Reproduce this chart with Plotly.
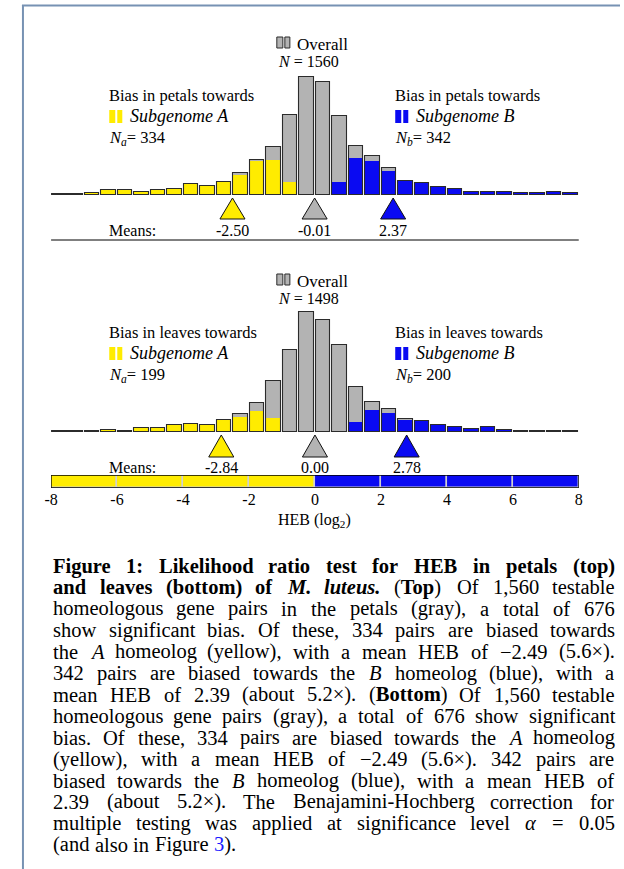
import re
import plotly.graph_objects as go

W, H = 624, 869

# ---------------- data ----------------
BIN_CENTERS = [-7.75, -7.25, -6.75, -6.25, -5.75, -5.25, -4.75, -4.25,
               -3.75, -3.25, -2.75, -2.25, -1.75, -1.25, -0.75, -0.25,
               0.25, 0.75, 1.25, 1.75, 2.25, 2.75, 3.25, 3.75,
               4.25, 4.75, 5.25, 5.75, 6.25, 6.75, 7.25, 7.75]

# petals (top)
TOP_ALL = [2, 2, 4, 9, 9, 5, 10, 12, 23, 19, 26,
           47, 74, 103, 172, 253, 241, 168, 105, 82, 58,
           29, 24, 17, 12, 5, 6, 5, 4, 4, 5, 4]
TOP_A = [2, 2, 4, 9, 9, 5, 10, 12, 23, 19, 26, 41, 71, 75, 26,
         0, 0, 0, 0, 0, 0, 0, 0, 0, 0, 0, 0, 0, 0, 0, 0, 0]
TOP_B = [0, 0, 0, 0, 0, 0, 0, 0, 0, 0, 0, 0, 0, 0, 0, 0, 0,
         27, 79, 71, 50, 29, 24, 17, 12, 5, 6, 5, 4, 4, 5, 4]

# leaves (bottom)
BOT_ALL = [2, 2, 3, 5, 2, 9, 9, 14, 18, 16, 26,
           39, 62, 110, 177, 257, 241, 188, 97, 65, 50, 29,
           23, 16, 10, 6, 10, 4, 3, 3, 2, 3]
BOT_A = [2, 2, 3, 5, 2, 9, 9, 14, 18, 16, 26, 32, 45, 31,
         0, 0, 0, 0, 0, 0, 0, 0, 0, 0, 0, 0, 0, 0, 0, 0, 0, 0]
BOT_B = [0, 0, 0, 0, 0, 0, 0, 0, 0, 0, 0, 0, 0, 0, 0, 0, 0, 0,
         21, 47, 41, 26, 23, 16, 10, 6, 10, 4, 3, 3, 2, 3]

MEANS_TOP = [-2.50, -0.01, 2.37]
MEANS_BOT = [-2.84, 0.00, 2.78]
MEAN_LABELS_TOP = ["-2.50", "-0.01", "2.37"]
MEAN_LABELS_BOT = ["-2.84", "0.00", "2.78"]

N_TOP = {"all": 1560, "a": 334, "b": 342}
N_BOT = {"all": 1498, "a": 199, "b": 200}

SCALE_CENTERS = [-7, -5, -3, -1, 1, 3, 5, 7]
SCALE_SIDE = ["A", "A", "A", "A", "B", "B", "B", "B"]

TICK_VALUES = [-8, -6, -4, -2, 0, 2, 4, 6, 8]
TICK_LABELS = ["-8", "-6", "-4", "-2", "0", "2", "4", "6", "8"]

CAPTION_LINES = [
    "<b>Figure 1: Likelihood ratio test for HEB in petals (top)</b>",
    "<b>and leaves (bottom) of <i>M. luteus.</i></b> (<b>Top</b>) Of 1,560 testable",
    "homeologous gene pairs in the petals (gray), a total of 676",
    "show significant bias. Of these, 334 pairs are biased towards",
    "the <i>A</i> homeolog (yellow), with a mean HEB of \u22122.49 (5.6\u00d7).",
    "342 pairs are biased towards the <i>B</i> homeolog (blue), with a",
    "mean HEB of 2.39 (about 5.2\u00d7). (<b>Bottom</b>) Of 1,560 testable",
    "homeologous gene pairs (gray), a total of 676 show significant",
    "bias. Of these, 334 pairs are biased towards the <i>A</i> homeolog",
    "(yellow), with a mean HEB of \u22122.49 (5.6\u00d7). 342 pairs are",
    "biased towards the <i>B</i> homeolog (blue), with a mean HEB of",
    "2.39 (about 5.2\u00d7). The Benajamini-Hochberg correction for",
    "multiple testing was applied at significance level <i>\u03b1</i> = 0.05",
    "(and also in Figure <c>3</c>).",
]

# ---------------- style ----------------
FONT = "Liberation Serif"
YELLOW = "#ffec00"
BLUE = "#0a0af2"
GRAY = "#b3b3b3"
EDGE = "#2b2b2b"
FRAME = "#7792b3"

K = 2.15            # counts per pixel
TOP_BASE = 194.5
BOT_BASE = 432.0


def X(p):
    """horizontal page position (px) -> figure px"""
    return (p - 8.1) / 0.979


def py(p):
    return 1 - p / H


def px(p):
    return min(max(X(p) / W, 0.0), 1.0)


X_L, X_R = 52, 578  # extent of HEB axis (-8 .. 8)
TRI_HALF = 0.38     # triangle half width, HEB units

fig = go.Figure()

# bars
for ax, allv, av, bv in (("y", TOP_ALL, TOP_A, TOP_B), ("y2", BOT_ALL, BOT_A, BOT_B)):
    fig.add_trace(go.Bar(x=BIN_CENTERS, y=allv, width=0.44, yaxis=ax,
                         marker=dict(color=GRAY, line=dict(width=0)), hoverinfo="skip"))
    fig.add_trace(go.Bar(x=BIN_CENTERS, y=av, width=0.44, yaxis=ax,
                         marker=dict(color=YELLOW, line=dict(width=0)), hoverinfo="skip"))
    fig.add_trace(go.Bar(x=BIN_CENTERS, y=bv, width=0.44, yaxis=ax,
                         marker=dict(color=BLUE, line=dict(width=0)), hoverinfo="skip"))
    fig.add_trace(go.Bar(x=BIN_CENTERS, y=allv, width=0.44, yaxis=ax,
                         marker=dict(color="rgba(0,0,0,0)", line=dict(width=1.1, color=EDGE)),
                         hoverinfo="skip"))

# mean triangles
TRI_COLORS = [YELLOW, GRAY, BLUE]
for ax, means, base, apex_px, bottom_px in (("y", MEANS_TOP, TOP_BASE, 198, 219),
                                            ("y2", MEANS_BOT, BOT_BASE, 435, 457)):
    y_apex = (base - apex_px) * K
    y_bot = (base - bottom_px) * K
    for m, c in zip(means, TRI_COLORS):
        fig.add_trace(go.Scatter(x=[m - TRI_HALF, m + TRI_HALF, m, m - TRI_HALF],
                                 y=[y_bot, y_bot, y_apex, y_bot], yaxis=ax,
                                 mode="lines", fill="toself", fillcolor=c,
                                 line=dict(color="#111111", width=1), hoverinfo="skip"))

# HEB colour scale
fig.add_trace(go.Bar(x=SCALE_CENTERS, y=[1] * len(SCALE_CENTERS), width=2, yaxis="y3",
                     marker=dict(color=[YELLOW if s == "A" else BLUE for s in SCALE_SIDE],
                                 line=dict(color="#d0d0d0", width=1.5)),
                     hoverinfo="skip"))

TOP_DOM = (62, 245)
BOT_DOM = (300, 470)
SC_DOM = (475, 488)

fig.update_layout(
    width=W, height=H, margin=dict(l=0, r=0, t=0, b=0),
    paper_bgcolor="white", plot_bgcolor="rgba(0,0,0,0)",
    showlegend=False, barmode="overlay", bargap=0,
    font=dict(family=FONT, color="black", size=16),
    xaxis=dict(domain=[px(X_L), px(X_R)], range=[-8, 8], anchor="y3",
               showgrid=False, zeroline=False, showline=False, ticks="",
               tickvals=TICK_VALUES, ticktext=TICK_LABELS,
               tickfont=dict(family=FONT, size=16, color="black")),
    yaxis=dict(domain=[py(TOP_DOM[1]), py(TOP_DOM[0])],
               range=[(TOP_BASE - TOP_DOM[1]) * K, (TOP_BASE - TOP_DOM[0]) * K],
               visible=False, anchor="x"),
    yaxis2=dict(domain=[py(BOT_DOM[1]), py(BOT_DOM[0])],
                range=[(BOT_BASE - BOT_DOM[1]) * K, (BOT_BASE - BOT_DOM[0]) * K],
                visible=False, anchor="x"),
    yaxis3=dict(domain=[py(SC_DOM[1]), py(SC_DOM[0])], range=[0, 1],
                visible=False, anchor="x"),
)

shapes = []
# frame
shapes.append(dict(type="line", xref="paper", yref="paper", x0=px(23), x1=1,
                   y0=py(5.5), y1=py(5.5), line=dict(color=FRAME, width=2)))
shapes.append(dict(type="line", xref="paper", yref="paper", x0=px(24), x1=px(24),
                   y0=py(5), y1=0, line=dict(color=FRAME, width=2)))
# rule under top panel
shapes.append(dict(type="line", xref="x", yref="paper", x0=-8, x1=8,
                   y0=py(240), y1=py(240), line=dict(color="black", width=1)))
# scale outer border
shapes.append(dict(type="rect", xref="x", yref="y3", x0=-8, x1=8, y0=0, y1=1,
                   line=dict(color="black", width=1.3), layer="above"))


def icon(x0, y0, y1, color, edge):
    for a, b in ((x0, x0 + 6), (x0 + 8, x0 + 13)):
        shapes.append(dict(type="rect", xref="paper", yref="paper", x0=px(a), x1=px(b),
                           y0=py(y1), y1=py(y0), fillcolor=color,
                           line=dict(color=edge, width=1 if edge else 0)))


for dy in (0, 237):
    icon(277, 37 + dy, 48 + dy, GRAY, EDGE)
    icon(110, 110 + dy, 123 + dy, YELLOW, None)
    icon(395, 110 + dy, 123 + dy, BLUE, None)

annotations = []


def ann(text, x, y, size=16, xanchor="left", xref="paper"):
    annotations.append(dict(text=text, x=(px(x) if xref == "paper" else x), y=py(y),
                            xref=xref, yref="paper", xanchor=xanchor, yanchor="middle",
                            showarrow=False, borderpad=0,
                            font=dict(family=FONT, size=size, color="black")))


panels = [
    (0, "petals", N_TOP, MEANS_TOP, MEAN_LABELS_TOP, 230),
    (237, "leaves", N_BOT, MEANS_BOT, MEAN_LABELS_BOT, 467),
]
for dy, organ, n, means, labels, my in panels:
    ann("Overall", 296, 44 + dy, 17)
    ann("<i>N</i> = %d" % n["all"], 277, 61 + dy, 16)
    ann("Bias in %s towards" % organ, 109, 95 + dy, 16.5)
    ann("Bias in %s towards" % organ, 394, 95 + dy, 16.5)
    ann("<i>Subgenome A</i>", 130, 116 + dy, 18)
    ann("<i>Subgenome B</i>", 415, 116 + dy, 18)
    ann("<i>N</i><sub><i>a</i></sub>= %d" % n["a"], 109, 138 + dy, 16.5)
    ann("<i>N</i><sub><i>b</i></sub>= %d" % n["b"], 394, 138 + dy, 16.5)
    ann("Means:", 109, my, 16)
    for m, lab in zip(means, labels):
        ann(lab, m, my, 16, xanchor="center", xref="x")

ann("HEB (log<sub>2</sub>)", 315, 520, 16, xanchor="center")

# ---------------- justified caption ----------------
REG = dict(zip("abcdefghijklmnopqrstuvwxyz",
               [444, 500, 444, 500, 444, 333, 500, 500, 278, 278, 500, 278, 778,
                500, 500, 500, 500, 333, 389, 278, 500, 500, 722, 500, 500, 444]))
REG.update(zip("ABCDEFGHIJKLMNOPQRSTUVWXYZ",
               [722, 667, 667, 722, 611, 556, 722, 722, 333, 389, 722, 611, 889,
                722, 722, 556, 722, 667, 556, 611, 722, 722, 944, 722, 722, 611]))
BOLD = dict(zip("abcdefghijklmnopqrstuvwxyz",
                [500, 556, 444, 556, 444, 333, 500, 556, 278, 333, 556, 278, 833,
                 556, 500, 556, 556, 444, 389, 333, 556, 500, 722, 500, 500, 444]))
BOLD.update(zip("ABCDEFGHIJKLMNOPQRSTUVWXYZ",
                [722, 667, 722, 722, 667, 611, 778, 778, 389, 500, 778, 667, 944,
                 722, 778, 611, 778, 722, 556, 667, 722, 722, 1000, 722, 722, 667]))
ITAL = dict(zip("abcdefghijklmnopqrstuvwxyz",
                [500, 500, 444, 500, 444, 278, 500, 500, 278, 278, 444, 278, 722,
                 500, 500, 500, 500, 389, 389, 278, 500, 444, 667, 444, 444, 389]))
ITAL.update(zip("ABCDEFGHIJKLMNOPQRSTUVWXYZ",
                [611, 611, 667, 722, 611, 611, 722, 722, 333, 444, 667, 556, 833,
                 667, 722, 611, 722, 611, 500, 556, 722, 611, 833, 611, 556, 556]))
BI = dict(BOLD)
BI.update({"M": 889, "u": 556, "t": 278})
PUNCT = {",": 250, ".": 250, "(": 333, ")": 333, ":": 278, "-": 333,
         "\u2212": 564, "\u00d7": 564, "=": 564, "\u03b1": 540}
for d in (REG, BOLD, ITAL, BI):
    for c in "0123456789":
        d[c] = 500
    for c, v in PUNCT.items():
        d.setdefault(c, v)
BOLD[":"] = 333
BI[":"] = 333

CAP_SIZE = 20.5
CAP_L, CAP_R = X(53), X(612)


def parse(line):
    words, cur, style = [], [], set()
    for tok in re.split(r"(<[^>]+>)", line):
        if not tok:
            continue
        if tok.startswith("<"):
            t = tok[1:-1]
            if t.startswith("/"):
                style.discard(t[1:])
            else:
                style.add(t)
            continue
        parts = tok.split(" ")
        for j, p in enumerate(parts):
            if j > 0 and cur:
                words.append(cur)
                cur = []
            if p:
                cur.append((frozenset(style), p))
    if cur:
        words.append(cur)
    return words


def seg_width(style, text):
    if "b" in style and "i" in style:
        tab = BI
    elif "b" in style:
        tab = BOLD
    elif "i" in style:
        tab = ITAL
    else:
        tab = REG
    return sum(tab.get(ch, 500) for ch in text) / 1000.0 * CAP_SIZE


def seg_html(style, text):
    s = text
    if "i" in style:
        s = "<i>%s</i>" % s
    if "b" in style:
        s = "<b>%s</b>" % s
    if "c" in style:
        s = '<span style="color:#1a1aff">%s</span>' % s
    return s


for i, line in enumerate(CAPTION_LINES):
    words = parse(line)
    widths = [sum(seg_width(st, tx) for st, tx in w) for w in words]
    total = sum(widths)
    last = i == len(CAPTION_LINES) - 1
    gap = 0.3 * CAP_SIZE if last else (CAP_R - CAP_L - total) / (len(words) - 1)
    x = CAP_L
    yc = 566 + 21.45 * i
    for w, wd in zip(words, widths):
        html = "".join(seg_html(st, tx) for st, tx in w)
        annotations.append(dict(text=html, x=x / W, y=py(yc), xref="paper", yref="paper",
                                xanchor="left", yanchor="middle", showarrow=False,
                                borderpad=0,
                                font=dict(family=FONT, size=CAP_SIZE, color="black")))
        x += wd + gap

fig.update_layout(shapes=shapes, annotations=annotations)
fig.write_html("out.html", config={"displayModeBar": False},
               post_script="document.body.style.margin='0px';")
